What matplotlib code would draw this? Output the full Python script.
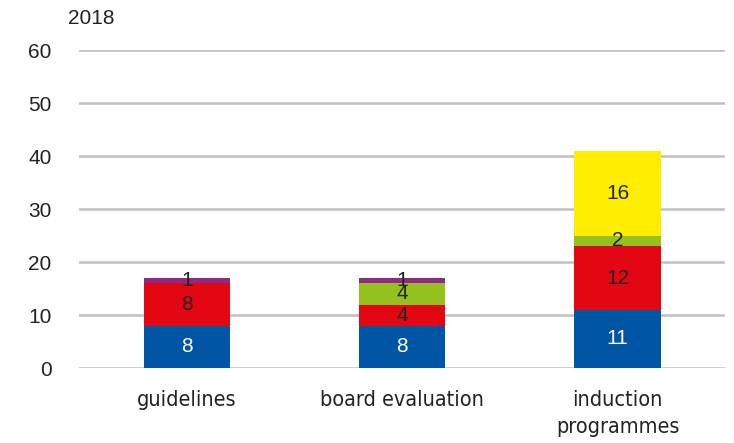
import matplotlib
matplotlib.use("Agg")
import matplotlib.pyplot as plt
import numpy as np

plt.rcParams['font.family'] = ['DejaVu Sans']

categories = ["guidelines", "board evaluation", "induction\nprogrammes"]
blue = [8, 8, 11]
red = [8, 4, 12]
green = [0, 4, 2]
yellow = [0, 0, 16]
purple = [1, 1, 0]

series = [blue, red, green, yellow, purple]
colors = ["#0055a5", "#e30613", "#95c11f", "#ffed00", "#8e2a83"]
text_colors = ["white", "#222222", "#222222", "#222222", "#222222"]

fig = plt.figure(figsize=(7.34, 4.43), dpi=100)
ax = fig.add_axes([0.108, 0.169, 0.880, 0.718])

x = np.arange(len(categories))
bottom = np.zeros(len(categories))
for vals, col, tcol in zip(series, colors, text_colors):
    vals = np.array(vals, dtype=float)
    bars = ax.bar(x, vals, 0.40, bottom=bottom, color=col, zorder=3)
    for b, v, bt in zip(bars, vals, bottom):
        if v > 0:
            ax.text(b.get_x() + b.get_width() / 2, bt + v / 2, f"{int(v)}",
                    ha="center", va="center", color=tcol, fontsize=15,
                    family=['Liberation Sans', 'DejaVu Sans'], zorder=4)
    bottom += vals

ax.set_xlim(-0.5, 2.5)
ax.set_ylim(0, 60)
ax.set_yticks(range(0, 61, 10))
ax.yaxis.grid(True, color="#c0c0c0", linewidth=1.8, zorder=0)
ax.set_axisbelow(True)
for s in ax.spines.values():
    s.set_visible(False)
ax.tick_params(axis="both", length=0, colors="#222222")
ax.tick_params(axis="y", pad=20, labelsize=15)
ax.tick_params(axis="x", pad=16)
for lab in ax.get_yticklabels():
    lab.set_family(['Liberation Sans', 'DejaVu Sans'])
ax.set_xticks(x)
ax.set_xticklabels(categories, fontsize=15.5, linespacing=1.4,
                   fontstretch="condensed")

fig.text(0.093, 1 - 18 / 443, "2018", fontsize=15, va="center", ha="left",
         color="#222222", family=['Liberation Sans', 'DejaVu Sans'])

fig.savefig("out.png", dpi=100)
